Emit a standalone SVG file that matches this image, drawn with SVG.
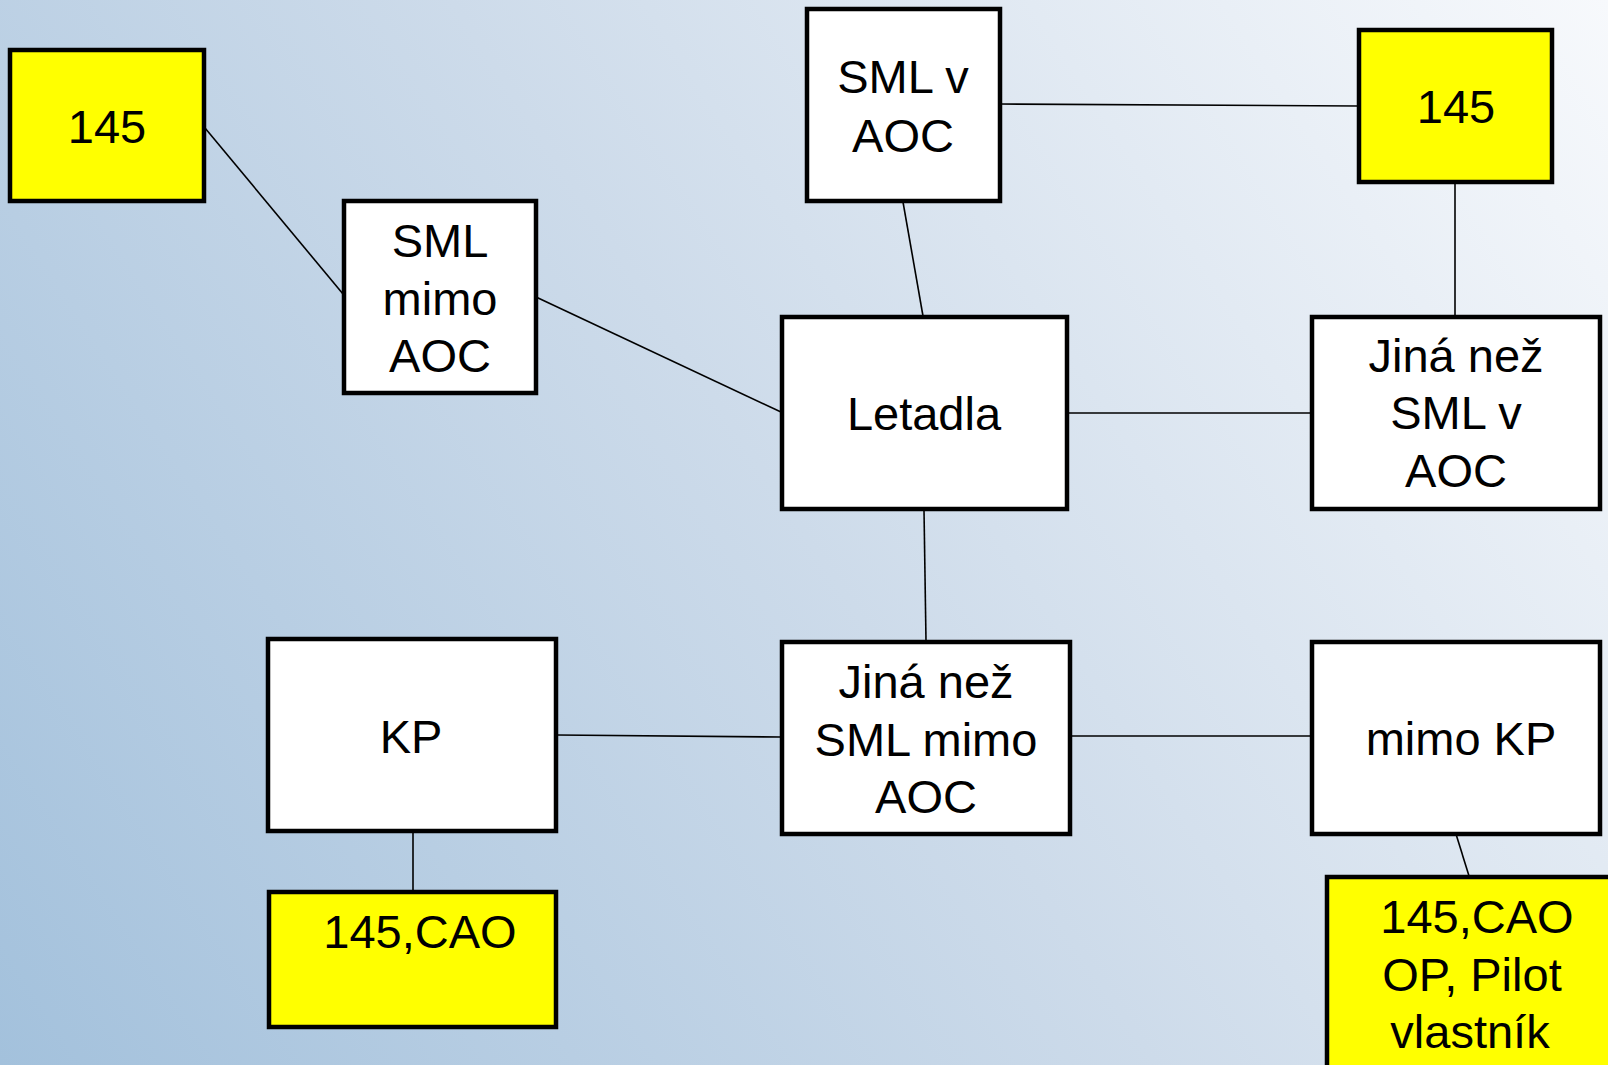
<svg xmlns="http://www.w3.org/2000/svg" width="1608" height="1065" viewBox="0 0 1608 1065">
<defs>
<linearGradient id="bg" x1="0" y1="1065" x2="1608" y2="0" gradientUnits="userSpaceOnUse">
<stop offset="0" stop-color="#a3c1dc"/>
<stop offset="0.5" stop-color="#cddbea"/>
<stop offset="1" stop-color="#f7f9fc"/>
</linearGradient>
<style>
.box{fill:#ffffff;stroke:#000;stroke-width:4.5}
.y{fill:#ffff00}
.t{font-family:"Liberation Sans",Arial,sans-serif;font-size:47px;fill:#000;text-anchor:middle}
.c{stroke:#000;stroke-width:1.6;fill:none}
</style>
</defs>
<rect width="1608" height="1065" fill="url(#bg)"/>
<g id="connectors">
<line class="c" x1="205" y1="128" x2="343" y2="294"/>
<line class="c" x1="536" y1="297" x2="781" y2="412"/>
<line class="c" x1="1000" y1="104" x2="1358" y2="106"/>
<line class="c" x1="903" y1="202" x2="923" y2="316"/>
<line class="c" x1="1455" y1="183" x2="1455" y2="316"/>
<line class="c" x1="1067" y1="413" x2="1311" y2="413"/>
<line class="c" x1="924" y1="510" x2="926" y2="641"/>
<line class="c" x1="557" y1="735" x2="781" y2="737"/>
<line class="c" x1="1071" y1="736" x2="1311" y2="736"/>
<line class="c" x1="413" y1="832" x2="413" y2="891"/>
<line class="c" x1="1456" y1="834" x2="1469" y2="876"/>
</g>
<g id="n145a"><rect class="box y" x="10" y="50" width="194" height="151"/><text class="t" x="107" y="143">145</text></g>
<g id="smlmimo"><rect class="box" x="344" y="201" width="192" height="192"/><text class="t" x="440" y="257">SML</text><text class="t" x="440" y="315">mimo</text><text class="t" x="440" y="372">AOC</text></g>
<g id="smlv"><rect class="box" x="807" y="9" width="193" height="192"/><text class="t" x="903" y="93">SML v</text><text class="t" x="903" y="152">AOC</text></g>
<g id="n145b"><rect class="box y" x="1359" y="30" width="193" height="152"/><text class="t" x="1456" y="123">145</text></g>
<g id="letadla"><rect class="box" x="782" y="317" width="285" height="192"/><text class="t" x="924" y="430">Letadla</text></g>
<g id="jinasmlv"><rect class="box" x="1312" y="317" width="288" height="192"/><text class="t" x="1456" y="372">Jiná než</text><text class="t" x="1456" y="429">SML v</text><text class="t" x="1456" y="487">AOC</text></g>
<g id="kp"><rect class="box" x="268" y="639" width="288" height="192"/><text class="t" x="411" y="753">KP</text></g>
<g id="jinasmlmimo"><rect class="box" x="782" y="642" width="288" height="192"/><text class="t" x="926" y="698">Jiná než</text><text class="t" x="926" y="756">SML mimo</text><text class="t" x="926" y="813">AOC</text></g>
<g id="mimokp"><rect class="box" x="1312" y="642" width="288" height="192"/><text class="t" x="1461" y="755">mimo KP</text></g>
<g id="n145cao"><rect class="box y" x="269" y="892" width="287" height="135"/><text class="t" x="420" y="948">145,CAO</text></g>
<g id="n145caoop"><rect class="box y" x="1327" y="877" width="300" height="200"/><text class="t" x="1477" y="933">145,CAO</text><text class="t" x="1472" y="991">OP, Pilot</text><text class="t" x="1470" y="1048">vlastník</text></g>
</svg>
